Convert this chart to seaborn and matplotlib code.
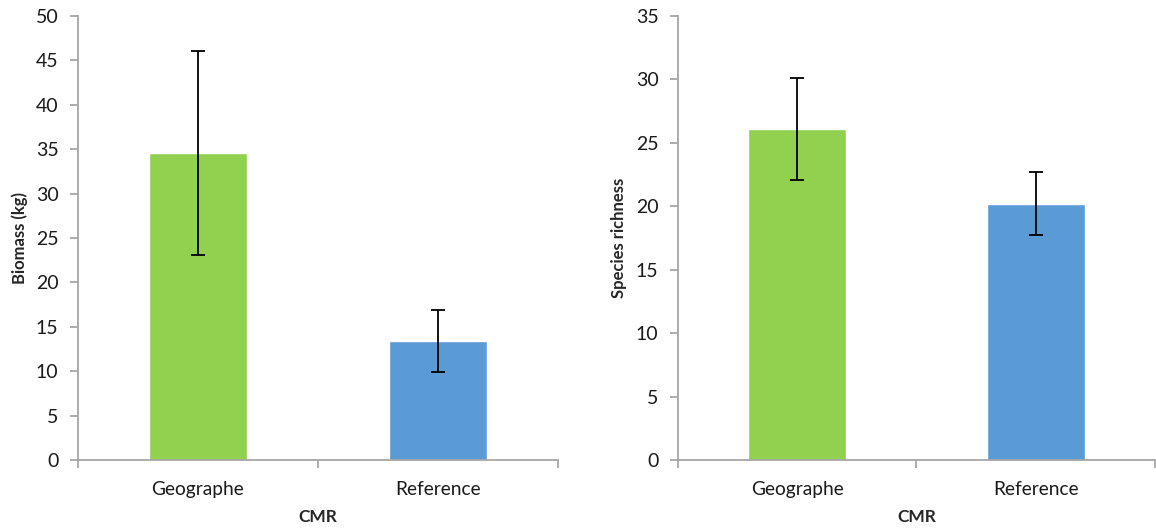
import numpy as np
import pandas as pd
import matplotlib
matplotlib.use("Agg")
import matplotlib.pyplot as plt
import seaborn as sns

# data
sites = ["Geographe", "Reference"]
biomass = [34.6, 13.4]
biomass_err = [11.5, 3.5]
richness = [26.1, 20.2]
richness_err = [4.0, 2.5]
bar_colors = ["#92D050", "#5B9BD5"]

sns.set_theme(style="white")
plt.rcParams['font.family'] = ['Lato', 'DejaVu Sans']

fig = plt.figure(figsize=(11.56, 5.30), dpi=100)
ax1 = fig.add_axes([0.0675, 0.132, 0.415, 0.838])
ax2 = fig.add_axes([0.5865, 0.132, 0.4125, 0.838])

spine_col = "#A6A6A6"


def draw_panel(ax, values, errs, ylabel, ymax):
    df = pd.DataFrame({"CMR": sites, "val": values})
    sns.barplot(data=df, x="CMR", y="val", hue="CMR", palette=bar_colors,
                width=0.41, legend=False, ax=ax, errorbar=None, saturation=1)
    ax.errorbar(np.arange(len(sites)), values, yerr=errs, fmt="none",
                ecolor="black", elinewidth=1.3, capsize=5, capthick=1.3)
    ax.set_xlim(-0.5, 1.5)
    ax.set_ylim(0, ymax)
    ax.set_yticks(np.arange(0, ymax + 1, 5))
    # category boundary ticks like the excel chart
    ax.set_xticks([-0.5, 0.5, 1.5])
    ax.set_xticklabels([])
    ax.set_xticks([0, 1], minor=True)
    ax.set_xticklabels(sites, minor=True)
    ax.tick_params(axis="x", which="major", direction="out", length=6,
                   width=1.3, color=spine_col, bottom=True)
    ax.tick_params(axis="x", which="minor", length=0, pad=15, labelsize=13.8,
                   labelcolor="#1a1a1a")
    ax.tick_params(axis="y", direction="out", length=6, width=1.3,
                   color=spine_col, left=True, labelsize=14,
                   labelcolor="#1a1a1a", pad=8)
    for s in ["top", "right"]:
        ax.spines[s].set_visible(False)
    for s in ["left", "bottom"]:
        ax.spines[s].set_color(spine_col)
        ax.spines[s].set_linewidth(1.3)
    ax.set_xlabel("CMR", fontsize=12.5, fontweight="bold", labelpad=8)
    ax.set_ylabel(ylabel, fontsize=12, fontweight="bold", labelpad=6)


draw_panel(ax1, biomass, biomass_err, "Biomass (kg)", 50)
draw_panel(ax2, richness, richness_err, "Species richness", 35)

fig.savefig("out.png", dpi=100)
